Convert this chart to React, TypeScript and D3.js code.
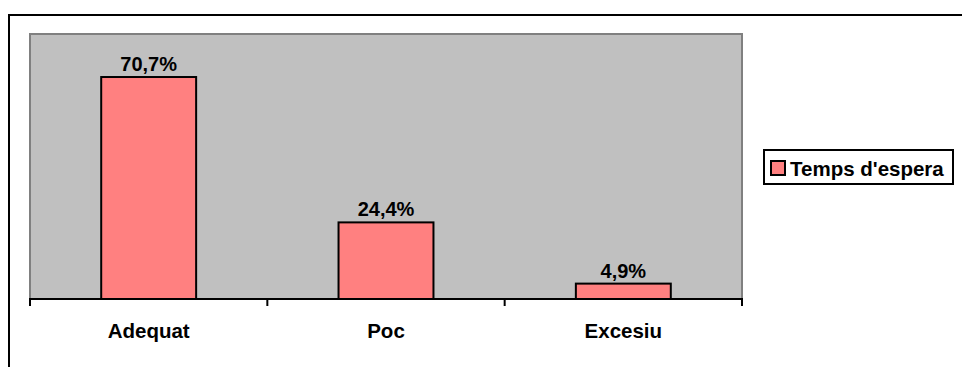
import React from "react";
import * as d3 from "d3";

const categories = ["Adequat", "Poc", "Excesiu"];
const values = [70.7, 24.4, 4.9];
const valueLabels = ["70,7%", "24,4%", "4,9%"];
const seriesName = "Temps d'espera";

const W = 962;
const H = 367;
const plot = { left: 30, right: 742, top: 34, bottom: 299 };
const FONT = "'Liberation Sans', Arial, sans-serif";

export default function App() {
  const x = d3
    .scaleBand<string>()
    .domain(categories)
    .range([plot.left, plot.right])
    .paddingInner(0.6)
    .paddingOuter(0.3);
  const y = d3.scaleLinear().domain([0, 84.4]).range([plot.bottom, plot.top]);

  const step = (plot.right - plot.left) / categories.length;
  const ticks = d3.range(categories.length + 1).map((i) => plot.left + i * step);

  return (
    <svg
      width={W}
      height={H}
      style={{ position: "absolute", left: 0, top: 0, display: "block" }}
    >
      <rect x={0} y={0} width={W} height={H} fill="#fff" />
      {/* chart frame */}
      <rect x={9} y={15} width={W + 20} height={H + 20} fill="none" stroke="#000" strokeWidth={2} />

      {/* plot area */}
      <rect
        x={plot.left}
        y={plot.top}
        width={plot.right - plot.left}
        height={plot.bottom - plot.top}
        fill="#C0C0C0"
        stroke="#808080"
        strokeWidth={2}
      />

      {/* bars */}
      {categories.map((c, i) => (
        <rect
          key={c}
          x={x(c)!}
          y={y(values[i])}
          width={x.bandwidth()}
          height={plot.bottom - y(values[i])}
          fill="#FF8080"
          stroke="#000"
          strokeWidth={2}
        />
      ))}

      {/* value labels */}
      {categories.map((c, i) => (
        <text
          key={c + "-v"}
          x={x(c)! + x.bandwidth() / 2}
          y={y(values[i]) - 6}
          textAnchor="middle"
          fontFamily={FONT}
          fontWeight="bold"
          fontSize={20}
          fill="#000"
        >
          {valueLabels[i]}
        </text>
      ))}

      {/* category axis */}
      <line x1={plot.left - 1} x2={plot.right + 1} y1={plot.bottom} y2={plot.bottom} stroke="#000" strokeWidth={2} />
      {ticks.map((t, i) => (
        <line key={i} x1={t} x2={t} y1={plot.bottom} y2={plot.bottom + 7} stroke="#000" strokeWidth={2} />
      ))}
      {categories.map((c) => (
        <text
          key={c + "-c"}
          x={x(c)! + x.bandwidth() / 2}
          y={338}
          textAnchor="middle"
          fontFamily={FONT}
          fontWeight="bold"
          fontSize={20.5}
          fill="#000"
        >
          {c}
        </text>
      ))}

      {/* legend */}
      <rect x={764} y={150} width={189} height={34} fill="#fff" stroke="#000" strokeWidth={2} />
      <rect x={771} y={161} width={14} height={14} fill="#FF8080" stroke="#000" strokeWidth={2} />
      <text x={790} y={176} fontFamily={FONT} fontWeight="bold" fontSize={20.5} fill="#000">
        {seriesName}
      </text>
    </svg>
  );
}
